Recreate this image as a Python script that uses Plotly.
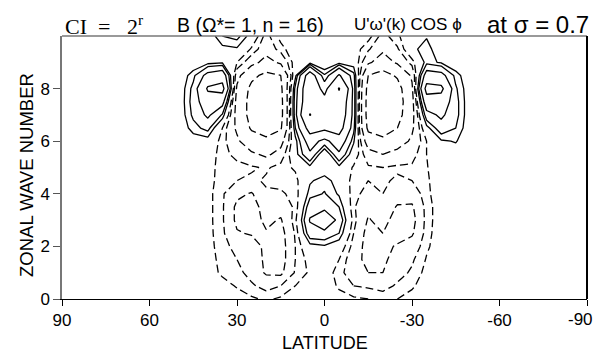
import numpy as np
import plotly.graph_objects as go

# ---- data ----
latitudes = [55, 50, 45, 40, 35, 30, 25, 20, 15, 10, 5, 0,
             -5, -10, -15, -20, -25, -30, -35, -40, -45, -50, -55]
wavenumbers = [0, 0.5, 1, 1.5, 2, 2.5, 3, 3.5, 4, 4.5, 5, 5.5,
               6, 6.5, 7, 7.5, 8, 8.5, 9, 9.5, 10]

# one list per latitude, values from wavenumber 0 up to 10
uw_cos_by_lat = [
    [0.0, 0.0, 0.0, 0.0, 0.0, 0.0, 0.0, 0.0, 0.0, 0.0, 0.0, 0.0, 0.0, 0.0, 0.0, 0.0, 0.0, 0.0, 0.0, 0.0, 0.0],   # 55
    [0.0, 0.0, 0.0, 0.0, 0.0, 0.0, 0.0, 0.0, 0.0, 0.0, 0.0, 0.0, 0.0, 0.0, 0.0, 0.0, 0.0, 0.0, 0.0, 0.0, 0.0],   # 50
    [-0.1, -0.2, -0.2, -0.2, -0.2, -0.2, -0.2, -0.2, -0.2, -0.2, -0.1, 0.0, 0.3, 1.5, 2.3, 2.6, 2.4, 1.6, 0.0, 0.0, 0.0],  # 45
    [0.0, -0.3, -0.5, -0.6, -0.6, -0.6, -0.6, -0.6, -0.6, -0.5, -0.5, -0.3, 0.3, 2.5, 4.5, 6.0, 8.5, 5.0, 0.5, 0.0, 0.0],  # 40
    [-0.2, -0.6, -1.2, -1.3, -1.5, -1.7, -1.8, -1.8, -1.8, -1.6, -1.5, -1.5, -1.5, -1.0, 1.8, 5.0, 9.5, 6.0, 0.8, 0.6, 2.0],  # 35
    [-0.5, -1.1, -1.6, -2.0, -2.5, -3.8, -4.5, -4.5, -3.5, -2.0, -1.5, -2.5, -3.5, -4.5, -5.0, -5.0, -4.5, -3.0, -1.0, 0.8, 2.5],  # 30
    [-0.8, -1.8, -2.5, -2.6, -3.0, -4.2, -5.0, -5.0, -4.2, -2.3, -1.8, -3.5, -6.0, -8.5, -9.5, -9.5, -9.0, -7.0, -3.0, -1.2, 0.3],  # 25
    [-1.2, -2.5, -4.3, -4.5, -4.5, -4.2, -3.5, -3.0, -2.2, -1.8, -2.2, -4.5, -7.0, -10.0, -11.5, -12.0, -11.0, -9.0, -5.0, -3.0, -2.5],  # 20
    [-0.8, -2.0, -4.5, -5.0, -5.0, -4.8, -4.2, -3.2, -2.2, -1.6, -1.5, -3.0, -5.0, -8.5, -9.5, -9.5, -9.0, -8.0, -3.5, -1.5, -0.5],  # 15
    [-0.3, -1.0, -1.8, -2.0, -2.0, -1.8, -1.3, -1.7, -1.6, -1.4, -0.8, 0.5, 0.5, 2.0, 3.0, 3.0, 2.5, 0.5, -0.3, 0.0, 0.0],  # 10
    [-0.3, -0.6, -0.8, -0.5, 0.5, 3.0, 4.2, 3.0, 1.5, 0.8, 0.6, 3.5, 5.5, 10.0, 16.3, 13.0, 13.0, 11.0, 0.3, 0.0, 0.0],  # 5
    [0.0, -0.2, -0.3, -0.2, 0.8, 3.2, 6.5, 3.2, 2.1, 1.6, 0.0, -0.5, 3.0, 9.0, 11.0, 10.0, 6.0, 2.2, -0.5, 0.0, 0.0],  # 0
    [-0.5, -1.2, -1.5, -1.0, 0.0, 2.0, 3.2, 2.0, 0.8, 0.3, 0.6, 3.5, 6.0, 10.0, 12.0, 13.0, 16.5, 8.5, 0.4, 0.0, 0.0],  # -5
    [-0.8, -2.0, -3.0, -3.0, -2.5, -2.0, -1.5, -1.8, -1.6, -1.5, -1.2, 0.0, 1.2, 2.5, 3.0, 3.0, 3.0, 2.5, 0.2, -0.3, 0.0],  # -10
    [-1.0, -2.2, -4.0, -4.8, -5.0, -4.8, -4.2, -3.5, -2.5, -2.0, -1.8, -3.0, -5.5, -9.0, -10.0, -10.0, -9.5, -8.0, -3.5, -1.8, -0.5],  # -15
    [-1.3, -2.5, -4.0, -4.5, -4.5, -4.0, -3.2, -2.6, -2.0, -1.8, -2.0, -4.0, -7.0, -10.0, -12.0, -12.5, -11.5, -9.5, -5.5, -3.5, -2.5],  # -20
    [-1.0, -1.8, -2.5, -3.0, -3.8, -4.8, -5.0, -4.2, -3.0, -2.2, -1.8, -3.0, -5.5, -8.0, -9.5, -10.0, -9.5, -7.5, -3.5, -2.2, -1.2],  # -25
    [-0.5, -1.2, -1.8, -2.2, -3.0, -4.3, -4.8, -4.3, -3.0, -2.0, -1.8, -2.5, -3.5, -4.5, -5.0, -5.0, -4.5, -3.5, -1.5, 0.5, 0.0],  # -30
    [0.0, -0.3, -0.6, -0.9, -1.2, -1.4, -1.5, -1.5, -1.3, -1.2, -1.1, -1.0, -1.0, 0.5, 3.0, 6.0, 9.5, 5.5, 1.5, 1.8, 0.8],  # -35
    [0.0, 0.0, -0.2, -0.3, -0.3, -0.3, -0.3, -0.3, -0.2, -0.2, 0.0, 0.0, 0.8, 3.0, 4.5, 6.0, 9.0, 5.0, 0.8, -0.5, 0.0],  # -40
    [0.0, 0.0, 0.0, 0.0, 0.0, 0.0, 0.0, 0.0, 0.0, 0.0, 0.0, 0.3, 1.1, 2.0, 2.5, 2.5, 2.2, 1.5, 0.0, 0.0, 0.0],  # -45
    [0.0, 0.0, 0.0, 0.0, 0.0, 0.0, 0.0, 0.0, 0.0, 0.0, 0.0, 0.0, 0.0, 0.0, 0.0, 0.0, 0.0, 0.0, 0.0, 0.0, 0.0],   # -50
    [0.0, 0.0, 0.0, 0.0, 0.0, 0.0, 0.0, 0.0, 0.0, 0.0, 0.0, 0.0, 0.0, 0.0, 0.0, 0.0, 0.0, 0.0, 0.0, 0.0, 0.0],   # -55
]

positive_levels = [1, 2, 4, 8, 16]
negative_levels = [-1, -2, -4, -8, -16]
x_tick_values = [90, 60, 30, 0, -30, -60, -90]
x_tick_labels = ["90", "60", "30", "0", "-30", "-60", "-90"]
y_tick_values = [0, 2, 4, 6, 8]

# ---- figure ----
z = np.array(uw_cos_by_lat).T   # rows = wavenumber, cols = latitude

W, H = 596, 356
L, R, T, B = 62, 9, 36, 57
pw, ph = W - L - R, H - T - B

def px_x(p):
    return (p - L) / pw

def px_y(p):
    return (H - B - p) / ph

fig = go.Figure()
for lev in positive_levels + negative_levels:
    fig.add_trace(go.Contour(
        x=latitudes, y=wavenumbers, z=z,
        autocontour=False,
        contours=dict(start=lev, end=lev, size=1, coloring="none"),
        line=dict(color="black", width=1.3, smoothing=0,
                  dash="solid" if lev > 0 else "8px,4px"),
        showscale=False, hoverinfo="skip",
    ))

sans = "Liberation Sans, Arial, sans-serif"
tick_font = dict(family=sans, size=17, color="black")

# last x tick label is written as an annotation so it stays inside the page
shown_x_labels = x_tick_labels[:-1] + [""]

fig.update_layout(
    width=W, height=H,
    margin=dict(l=L, r=R, t=T, b=B, autoexpand=False),
    paper_bgcolor="white", plot_bgcolor="white",
    showlegend=False,
    xaxis=dict(range=[90, -90], tickvals=x_tick_values, ticktext=shown_x_labels,
               ticks="outside", ticklen=6, tickcolor="black", showline=True,
               linecolor="black", linewidth=1, showgrid=False, zeroline=False,
               tickfont=tick_font, automargin=False),
    yaxis=dict(range=[0, 10], tickvals=y_tick_values, ticks="outside",
               ticklen=7, tickcolor="#555", showline=True, linecolor="#777",
               linewidth=1.5, showgrid=False, zeroline=False, tickfont=tick_font,
               automargin=False),
    shapes=[
        dict(type="line", xref="paper", yref="paper", x0=0, x1=1, y0=1, y1=1,
             line=dict(color="#777", width=1.5)),
        dict(type="line", xref="paper", yref="paper", x0=1, x1=1, y0=0, y1=1,
             line=dict(color="black", width=2)),
    ],
)

ann = [
    dict(text="CI&nbsp;&nbsp;=&nbsp;&nbsp;&nbsp;2<sup>r</sup>",
         x=px_x(63), y=px_y(25), xanchor="left",
         font=dict(family="Liberation Serif, Times New Roman, serif", size=22)),
    dict(text="B (Ω*= 1, n = 16)", x=px_x(175), y=px_y(25), xanchor="left",
         font=dict(family=sans, size=19.5)),
    dict(text="U'ω'(k) COS ϕ", x=px_x(352), y=px_y(25), xanchor="left",
         font=dict(family=sans, size=17)),
    dict(text="at σ = 0.7", x=px_x(591), y=px_y(24), xanchor="right",
         font=dict(family=sans, size=24)),
    dict(text=x_tick_labels[-1], x=px_x(595), y=px_y(319), xanchor="right",
         font=dict(family=sans, size=17)),
    dict(text="LATITUDE", x=px_x(325), y=px_y(343), xanchor="center",
         font=dict(family=sans, size=18)),
    dict(text="ZONAL WAVE NUMBER", x=px_x(26), y=px_y(175), xanchor="center",
         textangle=-90, font=dict(family=sans, size=18.5)),
]
for a in ann:
    a.update(xref="paper", yref="paper", yanchor="middle", showarrow=False)
    a["font"]["color"] = "black"
fig.update_layout(annotations=ann)

fig.write_html("out.html")
